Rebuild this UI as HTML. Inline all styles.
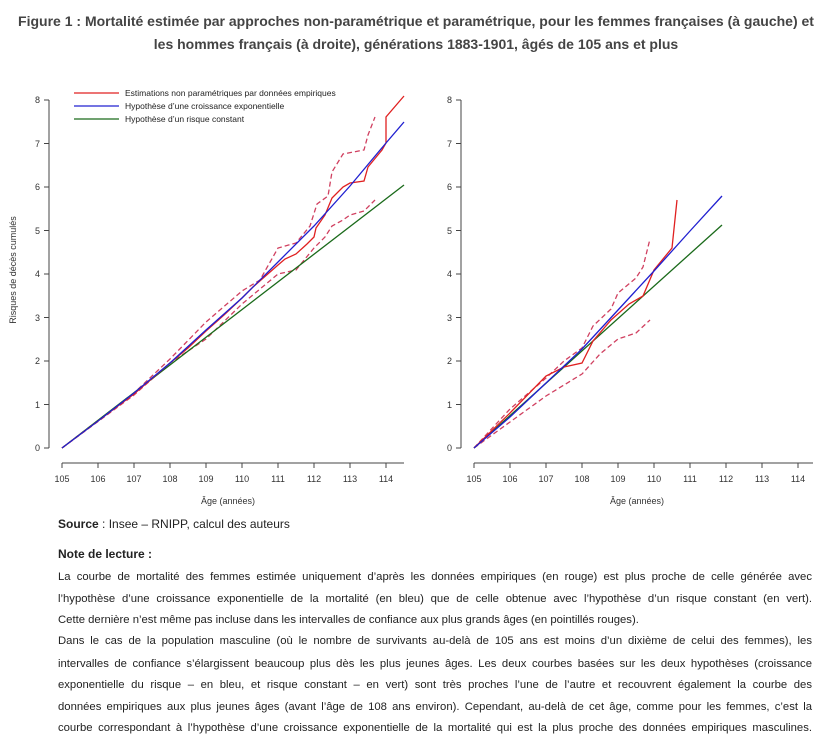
<!DOCTYPE html>
<html><head><meta charset="utf-8"><style>
body{margin:0;width:832px;height:743px;background:#fff;position:relative;overflow:hidden;font-family:"Liberation Sans",sans-serif;color:#222}
.t{position:absolute;left:0;width:832px;text-align:center;font-weight:bold;font-size:14px;color:#444;white-space:nowrap}
.l{position:absolute;left:58px;width:754px;font-size:11.3px;white-space:nowrap;color:#222}
.j{text-align:justify;text-align-last:justify}
svg{position:absolute;left:0;top:0}
</style></head><body>
<div class="t" style="top:13px">Figure 1 : Mortalité estimée par approches non-paramétrique et paramétrique, pour les femmes françaises (à gauche) et</div>
<div class="t" style="top:36px">les hommes français (à droite), générations 1883-1901, âgés de 105 ans et plus</div>

<svg width="832" height="520" viewBox="0 0 832 520" font-family="Liberation Sans, sans-serif">
<g stroke="#444" stroke-width="1" fill="none">
<path d="M49,100V448M49,100h-5M49,143.5h-5M49,187h-5M49,230.5h-5M49,274h-5M49,317.5h-5M49,361h-5M49,404.5h-5M49,448h-5"/>
<path d="M62,463H404M62,463v5M98,463v5M134,463v5M170,463v5M206,463v5M242,463v5M278,463v5M314,463v5M350,463v5M386,463v5"/>
<path d="M461,100V448M461,100h-5M461,143.5h-5M461,187h-5M461,230.5h-5M461,274h-5M461,317.5h-5M461,361h-5M461,404.5h-5M461,448h-5"/>
<path d="M474,463H813M474,463v5M510,463v5M546,463v5M582,463v5M618,463v5M654,463v5M690,463v5M726,463v5M762,463v5M798,463v5"/>
</g>
<g font-size="9" fill="#333" text-anchor="end">
<text x="40" y="103">8</text><text x="40" y="147">7</text><text x="40" y="190">6</text><text x="40" y="234">5</text><text x="40" y="277">4</text><text x="40" y="321">3</text><text x="40" y="364">2</text><text x="40" y="408">1</text><text x="40" y="451">0</text>
<text x="452" y="103">8</text><text x="452" y="147">7</text><text x="452" y="190">6</text><text x="452" y="234">5</text><text x="452" y="277">4</text><text x="452" y="321">3</text><text x="452" y="364">2</text><text x="452" y="408">1</text><text x="452" y="451">0</text>
</g>
<g font-size="9" fill="#333" text-anchor="middle">
<text x="62" y="482">105</text><text x="98" y="482">106</text><text x="134" y="482">107</text><text x="170" y="482">108</text><text x="206" y="482">109</text><text x="242" y="482">110</text><text x="278" y="482">111</text><text x="314" y="482">112</text><text x="350" y="482">113</text><text x="386" y="482">114</text>
<text x="474" y="482">105</text><text x="510" y="482">106</text><text x="546" y="482">107</text><text x="582" y="482">108</text><text x="618" y="482">109</text><text x="654" y="482">110</text><text x="690" y="482">111</text><text x="726" y="482">112</text><text x="762" y="482">113</text><text x="798" y="482">114</text>
<text x="228" y="504">Âge (années)</text><text x="637" y="504">Âge (années)</text>
<text transform="translate(16,270) rotate(-90)">Risques de décès cumulés</text>
</g>
<!-- legend -->
<g stroke-width="1.3">
<path d="M74,93h45" stroke="#e02020"/><path d="M74,106h45" stroke="#2020d0"/><path d="M74,119h45" stroke="#1a6a1a"/>
</g>
<g font-size="8.5" fill="#222">
<text x="125" y="96">Estimations non paramétriques par données empiriques</text>
<text x="125" y="109">Hypothèse d’une croissance exponentielle</text>
<text x="125" y="122">Hypothèse d’un risque constant</text>
</g>
<!-- left chart: X=62+36(a-105), Y=448-43.5v -->
<g fill="none" stroke-width="1.3">
<path stroke="#d04060" stroke-dasharray="5,3" d="M62,448L134,393L170,359L206,322L242,291L260,280L278,248L296,243L310,226L317,204L328,196L332,172L343,154L364,150L368,135L375,117"/>
<path stroke="#d04060" stroke-dasharray="5,3" d="M62,448L134,395L170,363L206,339L242,304L260,289L278,274L296,270L314,248L325,237L332,226L343,220L350,215L364,211L375,200"/>
<path stroke="#1a6a1a" d="M62,448L404,185"/>
<path stroke="#e02020" d="M62,448L134,394L170,363L188,348L206,331L224,315L242,298L253,287L278,265L285,259L296,254L307,244L314,237L316,228L325,215L332,198L343,187L350,183L364,181L368,167L382,150L386,143L386,117L404,96"/>
<path stroke="#2020d0" d="M62,448L98,421L134,393L170,363L206,330L242,298L278,262L314,226L350,186L386,143L404,122"/>
</g>
<!-- right chart: X=474+36(a-105) -->
<g fill="none" stroke-width="1.3">
<path stroke="#d04060" stroke-dasharray="5,3" d="M474,448L510,409L546,378L564,361L582,348L593,326L611,309L618,293L636,278L643,267L650,239"/>
<path stroke="#d04060" stroke-dasharray="5,3" d="M474,448L510,422L546,396L564,385L582,374L600,354L618,339L636,333L650,320"/>
<path stroke="#1a6a1a" d="M474,448L722,225"/>
<path stroke="#e02020" d="M474,448L510,413L546,376L564,367L582,363L593,341L611,320L629,304L643,296L654,270L672,248L677,200"/>
<path stroke="#2020d0" d="M474,448L510,417L546,383L582,349L618,310L654,271L690,231L722,196"/>
</g>
</svg>

<div class="l" style="top:517px;font-size:12px"><b>Source</b> : Insee – RNIPP, calcul des auteurs</div>
<div class="l" style="top:547px;font-size:12px"><b>Note de lecture :</b></div>
<div class="l j" style="top:571px">La courbe de mortalité des femmes estimée uniquement d’après les données empiriques (en rouge) est plus proche de celle générée avec</div>
<div class="l j" style="top:593px">l’hypothèse d’une croissance exponentielle de la mortalité (en bleu) que de celle obtenue avec l’hypothèse d’un risque constant (en vert).</div>
<div class="l" style="top:614px">Cette dernière n’est même pas incluse dans les intervalles de confiance aux plus grands âges (en pointillés rouges).</div>
<div class="l j" style="top:635px">Dans le cas de la population masculine (où le nombre de survivants au-delà de 105 ans est moins d’un dixième de celui des femmes), les</div>
<div class="l j" style="top:658px">intervalles de confiance s’élargissent beaucoup plus dès les plus jeunes âges. Les deux courbes basées sur les deux hypothèses (croissance</div>
<div class="l j" style="top:679px">exponentielle du risque – en bleu, et risque constant – en vert) sont très proches l’une de l’autre et recouvrent également la courbe des</div>
<div class="l j" style="top:701px">données empiriques aux plus jeunes âges (avant l’âge de 108 ans environ). Cependant, au-delà de cet âge, comme pour les femmes, c’est la</div>
<div class="l j" style="top:722px">courbe correspondant à l’hypothèse d’une croissance exponentielle de la mortalité qui est la plus proche des données empiriques masculines.</div>
</body></html>
